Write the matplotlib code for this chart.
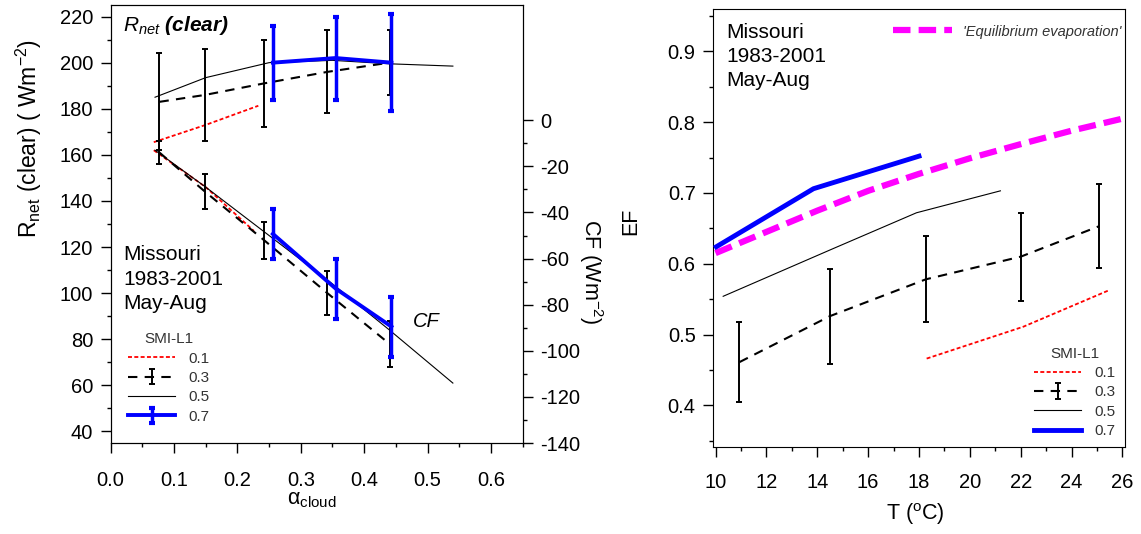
import matplotlib
matplotlib.use("Agg")
import matplotlib.pyplot as plt
from matplotlib.ticker import MultipleLocator, FixedLocator, FormatStrFormatter

plt.rcParams["font.family"] = ["Liberation Sans", "DejaVu Sans"]
plt.rcParams["mathtext.fontset"] = "custom"
plt.rcParams["mathtext.rm"] = "Liberation Sans"
plt.rcParams["mathtext.it"] = "Liberation Sans:italic"
plt.rcParams["mathtext.bf"] = "Liberation Sans:italic:bold"
plt.rcParams["axes.unicode_minus"] = False

# ---- data, left panel: R_net(clear) and CF vs cloud albedo, per SMI-L1 class
smi_labels = ["0.1", "0.3", "0.5", "0.7"]

alb_01 = [0.068, 0.15, 0.233]
rnet_01 = [165.5, 173, 181.3]
cf_alb_01 = [0.068, 0.15, 0.226]
cf_01 = [-13, -29, -48]

alb_03 = [0.077, 0.149, 0.242, 0.342, 0.44]
rnet_03 = [183, 186, 191, 196, 200]
rnet_03_err = [21, 20, 19, 18, 14]
cf_03 = [-14, -31, -52, -75, -97]
cf_03_err = [5, 7.5, 8, 9.5, 10]

alb_05 = [0.07, 0.15, 0.25, 0.35, 0.44, 0.54]
rnet_05 = [185, 193.5, 200, 201, 199.5, 198.5]
cf_05 = [-13, -29, -50, -71, -91, -114]

alb_07 = [0.256, 0.355, 0.443]
rnet_07 = [200, 202, 200]
rnet_07_err = [16, 18, 21]
cf_07 = [-49.3, -73, -89.5]
cf_07_err = [11, 13, 13]

# ---- data, right panel: EF vs temperature
temp_01 = [18.3, 22.1, 25.5]
ef_01 = [0.466, 0.511, 0.563]

temp_03 = [10.94, 14.5, 18.27, 22.0, 25.08]
ef_03 = [0.461, 0.526, 0.578, 0.610, 0.653]
ef_03_err = [0.056, 0.067, 0.061, 0.062, 0.059]

temp_05 = [10.3, 14.6, 17.9, 21.2]
ef_05 = [0.554, 0.621, 0.672, 0.703]

temp_07 = [10.03, 13.85, 18.0]
ef_07 = [0.624, 0.706, 0.752]

temp_eq = [10, 12, 14, 16, 18, 20, 22, 24, 26]
ef_eq = [0.615, 0.645, 0.675, 0.703, 0.727, 0.749, 0.769, 0.788, 0.805]

RED = "#ff0000"
BLUE = "#0000ff"
MAGENTA = "#ff00ff"
LEG_COLOR = "#333333"

red_style = dict(color=RED, lw=1.3, ls=(0, (2.2, 1.3)))
dash_style = dict(color="k", lw=1.5, ls=(0, (4.5, 3.5)), elinewidth=1.4,
                  capsize=2.5, capthick=1.4)
thin_style = dict(color="k", lw=0.8)
blue_style = dict(color=BLUE, lw=2.8, elinewidth=2.5, capsize=2, capthick=3)

leg_kw = dict(title="SMI-L1", loc="upper left", frameon=False, fontsize=11,
              title_fontsize=11, labelcolor=LEG_COLOR, borderpad=0,
              borderaxespad=0, handlelength=3.1, handletextpad=0.85,
              labelspacing=0.35)


def style_ticks(a, **kw):
    a.tick_params(which="both", direction="out", width=1.0, labelsize=14.5, **kw)
    a.tick_params(which="major", length=7)
    a.tick_params(which="minor", length=3)


fig = plt.figure(figsize=(11.41, 5.34), dpi=100)

# ================= left panel =================
ax = fig.add_axes([0.097, 0.1704, 0.361, 0.8202])
ax2 = ax.twinx()

ax.set_xlim(0, 0.65)
ax.set_ylim(35, 225)
ax2.set_ylim(-140, 50)

l01, = ax.plot(alb_01, rnet_01, **red_style)
eb03 = ax.errorbar(alb_03, rnet_03, yerr=rnet_03_err, **dash_style)
l05, = ax.plot(alb_05, rnet_05, **thin_style)
eb07 = ax.errorbar(alb_07, rnet_07, yerr=rnet_07_err, zorder=5, **blue_style)

ax2.plot(cf_alb_01, cf_01, **red_style)
ax2.errorbar(alb_03, cf_03, yerr=cf_03_err, **dash_style)
ax2.plot(alb_05, cf_05, **thin_style)
ax2.errorbar(alb_07, cf_07, yerr=cf_07_err, zorder=5, **blue_style)

ax.xaxis.set_major_locator(MultipleLocator(0.1))
ax.xaxis.set_minor_locator(MultipleLocator(0.05))
ax.yaxis.set_major_locator(MultipleLocator(20))
ax.yaxis.set_minor_locator(MultipleLocator(10))
ax2.yaxis.set_major_locator(FixedLocator(list(range(-140, 1, 20))))
ax2.yaxis.set_minor_locator(FixedLocator(list(range(-130, 0, 20))))
ax.xaxis.set_major_formatter(FormatStrFormatter("%.1f"))
style_ticks(ax, pad=5.5)
ax.tick_params(axis="x", which="both", pad=13.5)
style_ticks(ax2, pad=5.5)

ax.set_xlabel(r"$\mathrm{\alpha}_{\mathrm{cloud}}$", fontsize=15.5, va="center")
ax.xaxis.set_label_coords(0.489, -0.128)
ax.set_ylabel(r"R$_{\mathrm{net}}$ (clear) ( Wm$^{-2}$)", fontsize=16.5, va="center")
ax.yaxis.set_label_coords(-0.198, 0.696)
ax2.set_ylabel(r"CF (Wm$^{-2}$)", fontsize=15.5, rotation=270, va="center")
ax2.yaxis.set_label_coords(1.166, 0.39)

ax.text(0.029, 0.954, r"$R_{net}$ $\mathbf{(clear)}$", transform=ax.transAxes,
        fontsize=15, ha="left", va="center")
ax.text(0.031, 0.374, "Missouri\n1983-2001\nMay-Aug", transform=ax.transAxes,
        fontsize=15, ha="left", va="center", linespacing=1.36)
ax.text(0.734, 0.277, "CF", transform=ax.transAxes, fontsize=14.5,
        style="italic", ha="left", va="center")

ax2.legend([l01, eb03, l05, eb07], smi_labels, bbox_to_anchor=(0.042, 0.253),
           **leg_kw)
ax2.get_legend().get_title().set_color(LEG_COLOR)

# ================= right panel =================
axr = fig.add_axes([0.6249, 0.1635, 0.3611, 0.8191])
axr.set_xlim(9.9, 26.1)
axr.set_ylim(0.3415, 0.9595)

leq, = axr.plot(temp_eq, ef_eq, color=MAGENTA, lw=4.5, ls=(0, (2.8, 1.3)))
r01, = axr.plot(temp_01, ef_01, **red_style)
r03 = axr.errorbar(temp_03, ef_03, yerr=ef_03_err, **dash_style)
r05, = axr.plot(temp_05, ef_05, **thin_style)
r07, = axr.plot(temp_07, ef_07, color=BLUE, lw=3.5, zorder=5)

axr.xaxis.set_major_locator(MultipleLocator(2))
axr.xaxis.set_minor_locator(MultipleLocator(1))
axr.yaxis.set_major_locator(MultipleLocator(0.1))
axr.yaxis.set_minor_locator(MultipleLocator(0.05))
axr.yaxis.set_major_formatter(FormatStrFormatter("%.1f"))
style_ticks(axr, pad=5.5)
axr.tick_params(axis="x", which="both", pad=12)

axr.set_xlabel(r"T ($^{\mathrm{o}}$C)", fontsize=15.5, va="center")
axr.xaxis.set_label_coords(0.49, -0.154)
axr.set_ylabel("EF", fontsize=15.5, va="center")
axr.yaxis.set_label_coords(-0.199, 0.516)

axr.text(0.032, 0.892, "Missouri\n1983-2001\nMay-Aug", transform=axr.transAxes,
         fontsize=15, ha="left", va="center", linespacing=1.36)

eq_leg = axr.legend([leq], ["'Equilibrium evaporation'"], loc="upper left",
                    bbox_to_anchor=(0.437, 0.965), frameon=False,
                    prop={"size": 10.5, "style": "italic"}, labelcolor=LEG_COLOR,
                    borderpad=0, borderaxespad=0, handlelength=4.05,
                    handletextpad=0.75)
axr.add_artist(eq_leg)
axr.legend([r01, r03, r05, r07], smi_labels, bbox_to_anchor=(0.779, 0.2285),
           **leg_kw)
axr.get_legend().get_title().set_color(LEG_COLOR)

fig.savefig("out.png", dpi=100)
